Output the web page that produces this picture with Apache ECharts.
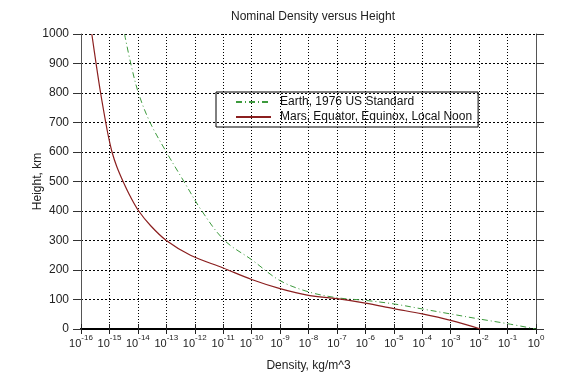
<!DOCTYPE html>
<html>
<head>
<meta charset="utf-8">
<script src="https://cdn.jsdelivr.net/npm/echarts@6/dist/echarts.min.js"></script>
<style>html,body{margin:0;padding:0;background:#fff}#c{width:576px;height:381px}</style>
</head>
<body>
<div id="c"></div>
<script>
// Heights (km) and log10 of density (kg/m^3)
const earthHeight = [1000, 900, 800, 700, 600, 500, 400, 300, 235, 164, 126, 106, 97, 85, 68, 51, 34, 18, 0];
const earthLogDensity = [-14.47, -14.25, -13.98, -13.57, -13.0, -12.38, -11.75, -10.95, -10.0, -9.0, -8.0, -7.0, -6.0, -5.0, -4.0, -3.0, -2.0, -1.0, 0.0];
const marsHeight = [1000, 900, 800, 700, 650, 600, 550, 500, 450, 400, 350, 300, 250, 207, 168, 137, 114, 103, 88, 69, 51, 29, 0];
const marsLogDensity = [-15.62, -15.47, -15.31, -15.13, -15.03, -14.91, -14.74, -14.52, -14.27, -13.97, -13.55, -13.0, -12.15, -11.0, -10.0, -9.0, -8.0, -7.0, -6.0, -5.0, -4.0, -3.0, -1.95];
const seriesNames = ['Earth, 1976 US Standard', 'Mars, Equator, Equinox, Local Noon'];
const xMin = 1e-16, xMax = 1;
const yMin = 0, yMax = 1000, yStep = 100;

const toPairs = (h, ld) => h.map((v, i) => [Math.pow(10, ld[i]), v]);
const FONT = '"Liberation Sans", Arial, sans-serif';

const chart = echarts.init(document.getElementById('c'));
chart.setOption({
  animation: false,
  backgroundColor: '#fff',
  textStyle: { fontFamily: FONT },
  title: {
    text: 'Nominal Density versus Height',
    left: 308, top: 6, textAlign: 'center',
    textStyle: { fontFamily: FONT, fontSize: 12, fontWeight: 'normal', color: '#222' }
  },
  grid: { left: 81, right: 40, top: 34, bottom: 52 },
  legend: {
    orient: 'vertical', left: 216, top: 92,
    padding: [4, 6, 4, 19], itemGap: 3,
    itemWidth: 35, itemHeight: 12,
    borderColor: '#000', borderWidth: 1,
    itemStyle: { opacity: 0 },
    textStyle: { fontFamily: FONT, fontSize: 12, color: '#111', padding: [0, 0, 0, 4] },
    data: seriesNames
  },
  xAxis: [{
    type: 'log', logBase: 10, min: xMin, max: xMax, interval: 1,
    position: 'bottom',
    name: 'Density, kg/m^3', nameLocation: 'middle', nameGap: 31,
    nameTextStyle: { fontFamily: FONT, fontSize: 12, color: '#222' },
    axisLine: { lineStyle: { color: '#000', width: 2 } },
    axisTick: { length: 5, lineStyle: { color: '#222' } },
    axisLabel: {
      margin: 5,
      formatter: v => '{b|10}{s|' + Math.round(Math.log10(v)) + '}',
      rich: {
        b: { fontFamily: FONT, fontSize: 11, color: '#222', lineHeight: 15, verticalAlign: 'bottom' },
        s: { fontFamily: FONT, fontSize: 8, color: '#222', lineHeight: 15, verticalAlign: 'top' }
      }
    },
    splitLine: { show: true, lineStyle: { color: '#000', type: [1, 2], width: 1 } }
  }, {
    type: 'log', logBase: 10, min: xMin, max: xMax, interval: 1,
    position: 'top',
    axisLine: { lineStyle: { color: '#000', width: 2 } },
    axisTick: { length: 5, lineStyle: { color: '#222' } },
    axisLabel: { show: false },
    splitLine: { show: false }
  }],
  yAxis: [{
    type: 'value', min: yMin, max: yMax, interval: yStep,
    position: 'left',
    name: 'Height, km', nameLocation: 'middle', nameGap: 37, nameRotate: 90,
    nameMoveOverlap: false,
    nameTextStyle: { fontFamily: FONT, fontSize: 12, color: '#222' },
    axisLine: { show: true, lineStyle: { color: '#555', width: 1 } },
    axisTick: { show: true, length: 8, lineStyle: { color: '#333' } },
    axisLabel: { margin: 12, fontFamily: FONT, fontSize: 12, color: '#222', formatter: v => String(v) },
    splitLine: { show: true, lineStyle: { color: '#000', type: [2, 2], width: 1 } }
  }, {
    type: 'value', min: yMin, max: yMax, interval: yStep,
    position: 'right',
    axisLine: { show: true, lineStyle: { color: '#555', width: 1 } },
    axisTick: { show: true, length: 8, lineStyle: { color: '#333' } },
    axisLabel: { show: false },
    splitLine: { show: false }
  }],
  series: [{
    name: seriesNames[0], type: 'line', xAxisIndex: 0, yAxisIndex: 0,
    data: toPairs(earthHeight, earthLogDensity),
    symbol: 'none', smooth: 0.35,
    lineStyle: { color: '#3d9a3d', width: 1, type: [6, 3, 1, 3] },
    itemStyle: { color: '#3d9a3d' }
  }, {
    name: seriesNames[1], type: 'line', xAxisIndex: 0, yAxisIndex: 0,
    data: toPairs(marsHeight, marsLogDensity),
    symbol: 'none', smooth: 0.35,
    lineStyle: { color: '#8b1f1f', width: 1.2 },
    itemStyle: { color: '#8b1f1f' }
  }]
});
</script>
</body>
</html>
